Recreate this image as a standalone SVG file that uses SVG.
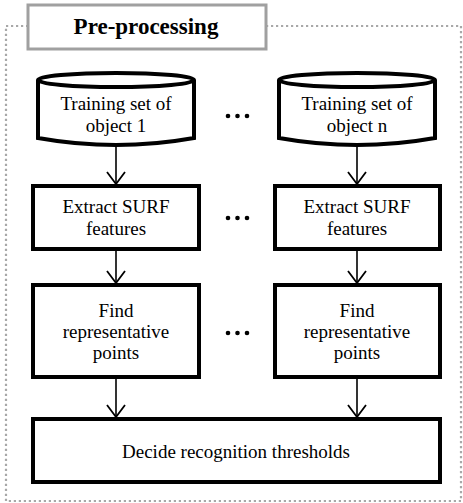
<svg xmlns="http://www.w3.org/2000/svg" width="463" height="503" viewBox="0 0 463 503">
<style>
.t{font-family:"Liberation Serif","Times New Roman",serif;font-size:19px;fill:#000;text-anchor:middle}
.box{fill:#fff;stroke:#000;stroke-width:4}
.cyl{fill:#fff;stroke:#000;stroke-width:4}
.c{stroke:#000;stroke-width:1.6;fill:none}
.dot{fill:#000}
</style>
<defs>
<marker id="ah" viewBox="0 0 20 14" refX="10" refY="13" markerWidth="20" markerHeight="14" markerUnits="userSpaceOnUse" orient="0">
<path d="M1,1 L10,13 L19,1" fill="none" stroke="#000" stroke-width="1.8"/>
</marker>
</defs>
<rect x="6" y="26" width="455" height="475" fill="none" stroke="#a8a8a8" stroke-width="2.2" stroke-dasharray="2.2 2.8"/>
<g id="title">
<rect x="28" y="5" width="238" height="44" fill="#fff" stroke="#a0a0a0" stroke-width="3"/>
<text x="146" y="34" style="font-family:'Liberation Serif','Times New Roman',serif;font-size:23px;font-weight:bold;text-anchor:middle">Pre-processing</text>
</g>
<g id="connectors">
<line class="c" x1="116" y1="146" x2="116" y2="184" marker-end="url(#ah)"/>
<line class="c" x1="357" y1="146" x2="357" y2="184" marker-end="url(#ah)"/>
<line class="c" x1="116" y1="251" x2="116" y2="283" marker-end="url(#ah)"/>
<line class="c" x1="357" y1="251" x2="357" y2="283" marker-end="url(#ah)"/>
<line class="c" x1="116" y1="379" x2="116" y2="417" marker-end="url(#ah)"/>
<line class="c" x1="357" y1="379" x2="357" y2="417" marker-end="url(#ah)"/>
</g>
<g id="train1">
<path class="cyl" d="M38,80 L38,138 Q116,152 194,138 L194,80"/>
<ellipse class="cyl" cx="116" cy="80" rx="78" ry="7"/>
<text class="t" x="116" y="110">Training set of</text>
<text class="t" x="116" y="132">object 1</text>
</g>
<g id="trainn">
<path class="cyl" d="M279,80 L279,138 Q357,152 435,138 L435,80"/>
<ellipse class="cyl" cx="357" cy="80" rx="78" ry="7"/>
<text class="t" x="357" y="110">Training set of</text>
<text class="t" x="357" y="132">object n</text>
</g>
<g id="extract1">
<rect class="box" x="33" y="186" width="166" height="63"/>
<text class="t" x="116" y="213">Extract SURF</text>
<text class="t" x="116" y="235">features</text>
</g>
<g id="extractn">
<rect class="box" x="275" y="186" width="165" height="63"/>
<text class="t" x="357" y="213">Extract SURF</text>
<text class="t" x="357" y="235">features</text>
</g>
<g id="find1">
<rect class="box" x="33" y="285" width="166" height="92"/>
<text class="t" x="116" y="317">Find</text>
<text class="t" x="116" y="338">representative</text>
<text class="t" x="116" y="359">points</text>
</g>
<g id="findn">
<rect class="box" x="275" y="285" width="165" height="92"/>
<text class="t" x="357" y="317">Find</text>
<text class="t" x="357" y="338">representative</text>
<text class="t" x="357" y="359">points</text>
</g>
<g id="decide">
<rect class="box" x="33" y="419" width="407" height="63"/>
<text class="t" x="236" y="458">Decide recognition thresholds</text>
</g>
<g id="dots">
<circle class="dot" cx="228" cy="116" r="2.3"/><circle class="dot" cx="237.5" cy="116" r="2.3"/><circle class="dot" cx="247" cy="116" r="2.3"/>
<circle class="dot" cx="228" cy="218" r="2.3"/><circle class="dot" cx="237.5" cy="218" r="2.3"/><circle class="dot" cx="247" cy="218" r="2.3"/>
<circle class="dot" cx="228" cy="333" r="2.3"/><circle class="dot" cx="237.5" cy="333" r="2.3"/><circle class="dot" cx="247" cy="333" r="2.3"/>
</g>
</svg>
